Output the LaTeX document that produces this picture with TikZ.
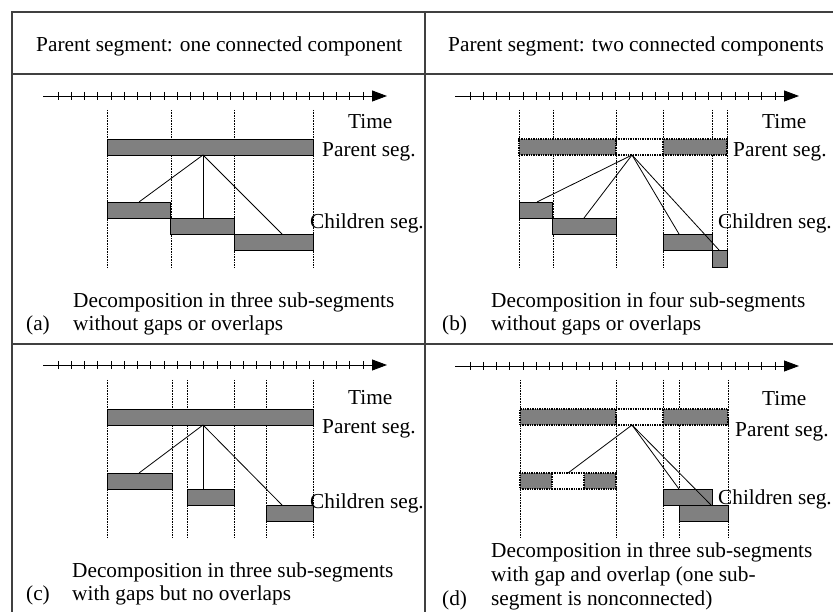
\documentclass[tikz,border=0pt]{standalone}
\usepackage{fontspec}
\setmainfont{Liberation Serif}
\usetikzlibrary{arrows.meta,calc}
\definecolor{barfill}{gray}{0.5}
\definecolor{rulegray}{gray}{0.25}
\newcommand\tnr{\fontsize{21.3}{24}\selectfont}
% time axis: #1 = x of the line start, #2 = y
\newcommand\timeaxis[2]{%
  \draw[axisline,-{Triangle[length=15pt,width=11pt]}] (#1,#2) -- ({#1+344},#2);
  \foreach \k in {0,...,23}
    \draw[axisline] ({#1+15+\k*13.26},{#2-4}) -- ({#1+15+\k*13.26},{#2+4});
}
\begin{document}
\begin{tikzpicture}[x=1pt,y=-1pt,
  tbl/.style={draw=rulegray,line width=1.6pt},
  axisline/.style={draw=black,line width=0.9pt},
  guide/.style={draw=black,line width=0.7pt,dash pattern=on 0.8pt off 0.8pt},
  bar/.style={draw=black,fill=barfill,line width=0.8pt,inner sep=0pt,outer sep=0pt,
    anchor=north west,minimum height=16pt},
  dotbar/.style={bar,line width=1.2pt,dash pattern=on 1.4pt off 1pt},
  gapline/.style={draw=black,line width=1.2pt,dash pattern=on 1.4pt off 1pt},
  link/.style={draw=black,line width=0.8pt},
  lbl/.style={anchor=base west,inner sep=0pt,font=\tnr}]
\useasboundingbox (0,0) rectangle (833,612);

% table rules
\draw[tbl] (12,612) -- (12,12) -- (833,12);
\draw[tbl] (425,12) -- (425,612);
\draw[tbl] (12,74) -- (833,74);
\draw[tbl] (12,344) -- (833,344);

% column headers
\node[lbl] (hleft) at (36,52) {Parent segment: one connected component};
\node[lbl] (hright) at (448,52) {Parent segment: two connected components};

% ---------------- (a) ----------------
\timeaxis{43}{96}
\foreach \gx in {107,171,234,313} \draw[guide] (\gx,110) -- (\gx,267);
\node[bar,minimum width=206pt] (pa) at (107,139) {};
\node[bar,minimum width=63pt] (ca1) at (107,202) {};
\node[bar,minimum width=64pt] (ca2) at (170,218) {};
\node[bar,minimum width=79pt] (ca3) at (234,234) {};
\coordinate (apa) at ([xshift=96pt]pa.south west);
\draw[link] (apa) -- ([xshift=32pt]ca1.north west);
\draw[link] (apa) -- ([xshift=33pt]ca2.north west);
\draw[link] (apa) -- ([xshift=48pt]ca3.north west);
\node[lbl] (ta) at (348,129) {Time};
\node[lbl] (pla) at (322,157) {Parent seg.};
\node[lbl] (cla) at (310,229) {Children seg.};
\node[lbl] (da1) at (73,308) {Decomposition in three sub-segments};
\node[lbl] (da2) at (73,331) {without gaps or overlaps};
\node[lbl] (ka) at (26,331) {(a)};

% ---------------- (b) ----------------
\timeaxis{455}{96}
\foreach \gx in {519,553,616,663,712,727} \draw[guide] (\gx,110) -- (\gx,267);
\node[dotbar,minimum width=97pt] (pb1) at (519,139) {};
\node[dotbar,minimum width=64pt] (pb2) at (663,139) {};
\draw[gapline] (pb1.north east) -- (pb2.north west);
\draw[gapline] (pb1.south east) -- (pb2.south west);
\node[bar,minimum width=33pt] (cb1) at (519,202) {};
\node[bar,minimum width=64pt] (cb2) at (552,218) {};
\node[bar,minimum width=49pt] (cb3) at (663,234) {};
\node[bar,minimum width=15pt,minimum height=17pt] (cb4) at (712,250) {};
\coordinate (apb) at ([xshift=16pt]pb1.south east);
\draw[link] (apb) -- ([xshift=18pt]cb1.north west);
\draw[link] (apb) -- ([xshift=32pt]cb2.north west);
\draw[link] (apb) -- ([xshift=16pt]cb3.north west);
\draw[link] (apb) -- ([xshift=7pt]cb4.north west);
\node[lbl] (tb) at (762,129) {Time};
\node[lbl] (plb) at (733,157) {Parent seg.};
\node[lbl] (clb) at (718,229) {Children seg.};
\node[lbl] (db1) at (491,308) {Decomposition in four sub-segments};
\node[lbl] (db2) at (491,331) {without gaps or overlaps};
\node[lbl] (kb) at (442,331) {(b)};

% ---------------- (c) ----------------
\timeaxis{43}{365}
\foreach \gx in {107,172,187,234,266,313} \draw[guide] (\gx,380) -- (\gx,537);
\node[bar,minimum width=206pt] (pc) at (107,409) {};
\node[bar,minimum width=65pt] (cc1) at (107,473) {};
\node[bar,minimum width=47pt] (cc2) at (187,489) {};
\node[bar,minimum width=47pt] (cc3) at (266,505) {};
\coordinate (apc) at ([xshift=96pt]pc.south west);
\draw[link] (apc) -- ([xshift=32pt]cc1.north west);
\draw[link] (apc) -- ([xshift=16pt]cc2.north west);
\draw[link] (apc) -- ([xshift=16pt]cc3.north west);
\node[lbl] (tc) at (348,404) {Time};
\node[lbl] (plc) at (322,433) {Parent seg.};
\node[lbl] (clc) at (310,508) {Children seg.};
\node[lbl] (dc1) at (72,577) {Decomposition in three sub-segments};
\node[lbl] (dc2) at (72,600) {with gaps but no overlaps};
\node[lbl] (kc) at (26,600) {(c)};

% ---------------- (d) ----------------
\timeaxis{455}{366}
\foreach \gx in {520,616,663,679,728} \draw[guide] (\gx,380) -- (\gx,537);
\node[dotbar,minimum width=96pt] (pd1) at (520,409) {};
\node[dotbar,minimum width=65pt] (pd2) at (663,409) {};
\draw[gapline] (pd1.north east) -- (pd2.north west);
\draw[gapline] (pd1.south east) -- (pd2.south west);
\node[dotbar,minimum width=32pt] (cd1a) at (520,473) {};
\node[dotbar,minimum width=32pt] (cd1b) at (584,473) {};
\draw[gapline] (cd1a.north east) -- (cd1b.north west);
\draw[gapline] (cd1a.south east) -- (cd1b.south west);
\node[bar,minimum width=49pt] (cd2) at (663,489) {};
\node[bar,minimum width=49pt] (cd3) at (679,505) {};
\coordinate (apd) at ([xshift=16pt]pd1.south east);
\draw[link] (apd) -- ($(cd1a.north east)!0.5!(cd1b.north west)$);
\draw[link] (apd) -- ([xshift=16pt]cd2.north west);
\draw[link] (apd) -- ([xshift=32pt]cd3.north west);
\node[lbl] (td) at (762,405) {Time};
\node[lbl] (pld) at (735,436) {Parent seg.};
\node[lbl] (cld) at (718,504) {Children seg.};
\node[lbl] (dd1) at (491,557) {Decomposition in three sub-segments};
\node[lbl] (dd2) at (491,581) {with gap and overlap (one sub-};
\node[lbl] (dd3) at (491,605) {segment is nonconnected)};
\node[lbl] (kd) at (442,605) {(d)};
\end{tikzpicture}
\end{document}
